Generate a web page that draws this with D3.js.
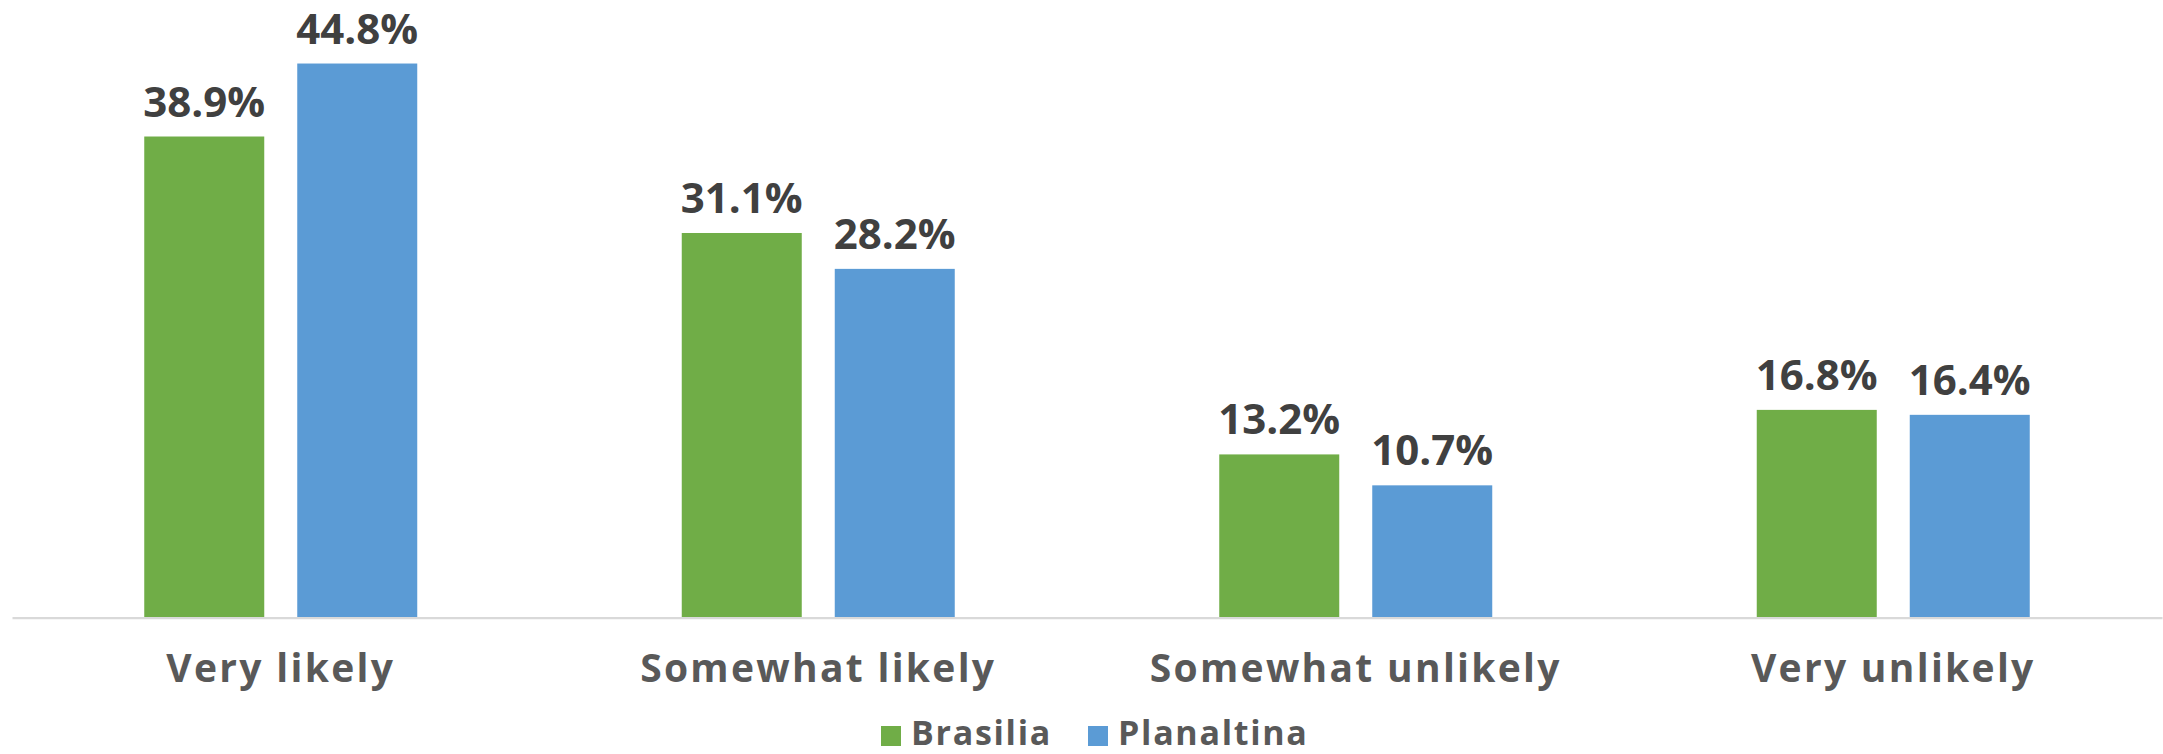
<!DOCTYPE html>
<html><head><meta charset="utf-8">
<script src="https://cdn.jsdelivr.net/npm/d3@7/dist/d3.min.js"></script>
<style>html,body{margin:0;padding:0;background:#fff;}svg{display:block;}</style>
</head><body>
<svg id="chart" width="2163" height="754"></svg>
<script>
const categories = ["Very likely", "Somewhat likely", "Somewhat unlikely", "Very unlikely"];
const seriesNames = ["Brasilia", "Planaltina"];
const brasilia = [38.9, 31.1, 13.2, 16.8];
const planaltina = [44.8, 28.2, 10.7, 16.4];
const colors = ["#70AD47", "#5B9BD5"];

const svg = d3.select("#chart");
const W = 2163, H = 754;
const left = 12, right = 2162, baseline = 617.7;
const pxPerUnit = 12.37;
const yMax = baseline / pxPerUnit;

const x0 = d3.scaleBand().domain(categories).range([left, right]).paddingInner(0).paddingOuter(0);
const innerW = 273;
const x1 = d3.scaleBand().domain(seriesNames).range([0, innerW]).paddingInner(33/153).paddingOuter(0);
const y = d3.scaleLinear().domain([0, yMax]).range([baseline, 0]);

const data = categories.map((c, i) => ({cat: c, vals: [brasilia[i], planaltina[i]]}));

const g = svg.append("g");
const groups = g.selectAll("g.grp").data(data).join("g")
  .attr("transform", d => `translate(${x0(d.cat) + (x0.bandwidth() - innerW)/2},0)`);

groups.selectAll("rect").data(d => d.vals.map((v, j) => ({v, s: seriesNames[j], j}))).join("rect")
  .attr("x", d => x1(d.s))
  .attr("width", x1.bandwidth())
  .attr("y", d => y(d.v))
  .attr("height", d => baseline - y(d.v))
  .attr("fill", d => colors[d.j]);

groups.selectAll("text.val").data(d => d.vals.map((v, j) => ({v, s: seriesNames[j], j}))).join("text")
  .attr("class", "val")
  .attr("x", d => x1(d.s) + x1.bandwidth()/2)
  .attr("y", d => y(d.v) - 20)
  .attr("text-anchor", "middle")
  .attr("font-family", "Open Sans, sans-serif")
  .attr("font-weight", 700)
  .attr("font-size", 42)
  .attr("fill", "#404040")
  .text(d => d.v.toFixed(1) + "%");

// axis
const xAxis = d3.axisBottom(x0).tickSize(0).tickPadding(0);
const ax = svg.append("g").attr("transform", `translate(0,${baseline})`).call(xAxis);
ax.select(".domain").attr("stroke", "#D9D9D9").attr("stroke-width", 2.3);
ax.selectAll(".tick text")
  .attr("y", 64)
  .attr("dy", 0)
  .attr("font-family", "Open Sans, sans-serif")
  .attr("font-weight", 700)
  .attr("font-size", 39)
  .attr("letter-spacing", 2.3)
  .attr("fill", "#595959");

// legend
const legendItems = [{name: "Brasilia", x: 881}, {name: "Planaltina", x: 1088}];
const lg = svg.append("g");
legendItems.forEach((it, i) => {
  lg.append("rect").attr("x", it.x).attr("y", 726).attr("width", 20).attr("height", 20).attr("fill", colors[i]);
  lg.append("text").attr("x", it.x + 30).attr("y", 745)
    .attr("font-family", "Open Sans, sans-serif").attr("font-weight", 700)
    .attr("font-size", 34).attr("letter-spacing", 1.7).attr("fill", "#595959").text(it.name);
});
</script>
</body></html>
